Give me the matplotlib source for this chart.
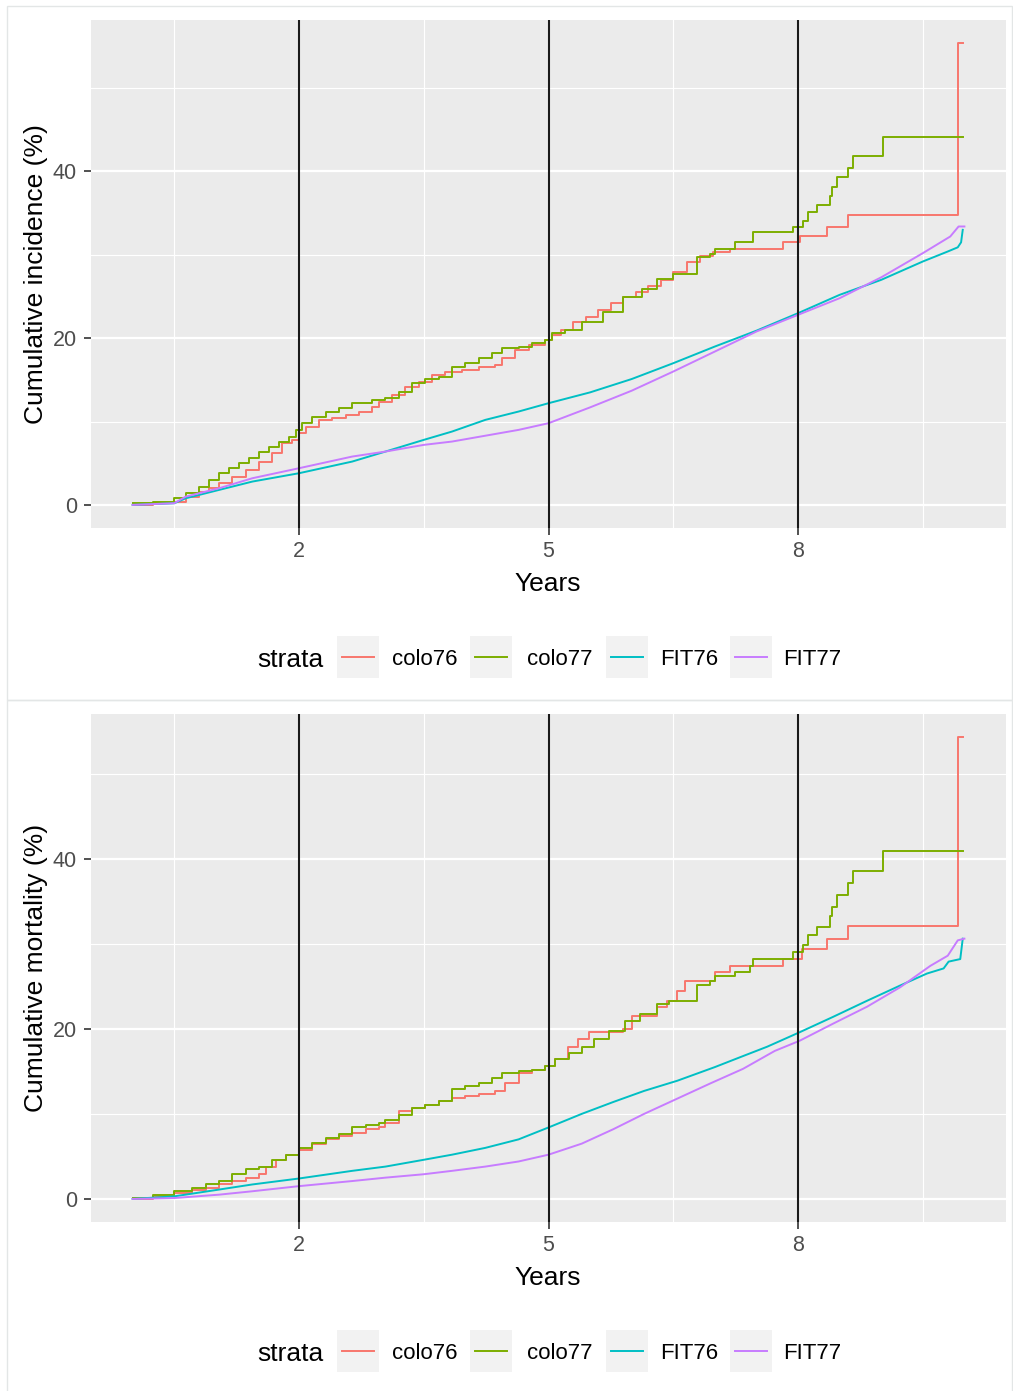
import numpy as np
import matplotlib
matplotlib.use("Agg")
import matplotlib.pyplot as plt
from matplotlib.patches import Rectangle
from matplotlib.lines import Line2D

plt.rcParams["font.family"] = ["Liberation Sans", "DejaVu Sans"]

# ---- cumulative incidence (%) by strata ----
inc_colo76_t = [0.0, 0.24, 0.5, 0.64, 0.8, 0.92, 1.04, 1.2, 1.36, 1.52, 1.68, 1.8, 1.92, 2.0, 2.08, 2.24,
                2.4, 2.56, 2.72, 2.88, 2.96, 3.12, 3.28, 3.44, 3.6, 3.76, 3.96, 4.16, 4.36, 4.44,
                4.6, 4.76, 4.96, 5.04, 5.15, 5.3, 5.45, 5.6, 5.75, 5.9, 6.05, 6.2, 6.35, 6.5,
                6.66, 6.82, 6.98, 7.18, 7.82, 8.02, 8.35, 8.6, 9.92, 9.98]
inc_colo76_y = [0.0, 0.2, 0.4, 1.0, 1.6, 2.0, 2.6, 3.4, 4.2, 5.2, 6.2, 7.4, 7.8, 8.6, 9.4, 10.2,
                10.4, 10.8, 11.2, 11.8, 12.4, 13.2, 14.2, 14.8, 15.6, 16.0, 16.2, 16.6, 16.8, 17.6,
                18.6, 19.2, 19.8, 20.4, 21.0, 22.0, 22.6, 23.4, 24.2, 25.0, 25.6, 26.3, 27.0, 27.9,
                29.1, 29.8, 30.3, 30.7, 31.5, 32.2, 33.3, 34.8, 55.4, 55.4]

inc_colo77_t = [0.0, 0.24, 0.5, 0.64, 0.8, 0.92, 1.04, 1.16, 1.28, 1.4, 1.52, 1.64, 1.76, 1.88, 1.96, 2.04,
                2.16, 2.32, 2.48, 2.64, 2.88, 3.04, 3.2, 3.36, 3.52, 3.68, 3.84, 4.0, 4.16, 4.32,
                4.44, 4.64, 4.8, 4.96, 5.04, 5.2, 5.4, 5.65, 5.9, 6.13, 6.3, 6.5, 6.78, 6.94,
                7.0, 7.24, 7.46, 7.94, 8.06, 8.12, 8.23, 8.39, 8.41, 8.47, 8.6, 8.66, 9.02, 9.98]
inc_colo77_y = [0.2, 0.4, 0.8, 1.4, 2.2, 3.0, 3.8, 4.4, 5.0, 5.6, 6.4, 7.0, 7.6, 8.2, 9.0, 9.8,
                10.6, 11.2, 11.6, 12.2, 12.6, 12.8, 13.6, 14.6, 15.1, 15.4, 16.6, 17.0, 17.6, 18.2,
                18.8, 19.0, 19.4, 19.8, 20.6, 21.0, 21.9, 23.2, 25.0, 25.9, 27.1, 27.7, 29.7, 30.1,
                30.7, 31.5, 32.7, 33.3, 34.0, 35.1, 36.0, 37.0, 38.1, 39.3, 40.4, 41.8, 44.1, 44.1]

inc_fit76_t = [0.0, 0.5, 0.64, 1.04, 1.44, 2.0, 2.64, 3.04, 3.5, 3.84, 4.24, 4.64, 5.0, 5.5, 6.0,
               6.5, 7.0, 7.5, 8.0, 8.5, 9.0, 9.5, 9.8, 9.92, 9.96, 9.98]
inc_fit76_y = [0.0, 0.2, 0.8, 1.8, 2.8, 3.8, 5.2, 6.4, 7.8, 8.8, 10.2, 11.2, 12.2, 13.5, 15.1,
               17.0, 19.0, 20.9, 23.0, 25.2, 27.0, 29.2, 30.4, 30.9, 31.5, 33.0]

inc_fit77_t = [0.0, 0.5, 0.64, 1.04, 1.44, 2.0, 2.64, 3.04, 3.5, 3.84, 4.24, 4.64, 5.0, 5.5, 6.0,
               6.5, 7.0, 7.5, 8.0, 8.5, 9.0, 9.5, 9.83, 9.93, 10.0]
inc_fit77_y = [0.0, 0.2, 1.0, 2.0, 3.2, 4.4, 5.8, 6.4, 7.2, 7.6, 8.3, 9.0, 9.8, 11.7, 13.7,
               16.0, 18.4, 20.8, 22.8, 24.8, 27.3, 30.2, 32.2, 33.4, 33.4]

# ---- cumulative mortality (%) by strata ----
mort_colo76_t = [0.0, 0.24, 0.5, 0.72, 0.88, 1.04, 1.2, 1.36, 1.52, 1.6, 1.72, 1.84, 2.0, 2.16, 2.32,
                 2.48, 2.64, 2.8, 2.96, 3.04, 3.2, 3.36, 3.52, 3.68, 3.84, 4.0, 4.16, 4.36, 4.48,
                 4.64, 4.8, 4.96, 5.08, 5.23, 5.35, 5.49, 5.9, 6.0, 6.3, 6.42, 6.54, 6.64, 7.0,
                 7.18, 7.82, 8.05, 8.35, 8.6, 9.92, 9.98]
mort_colo76_y = [0.0, 0.3, 0.7, 1.1, 1.3, 1.7, 2.1, 2.5, 2.9, 3.8, 4.6, 5.2, 5.8, 6.4, 7.0,
                 7.4, 7.8, 8.2, 8.5, 8.9, 10.3, 10.7, 11.1, 11.5, 11.9, 12.1, 12.3, 12.7, 13.6,
                 14.8, 15.2, 15.6, 16.4, 17.9, 18.8, 19.6, 20.0, 21.5, 22.6, 23.3, 24.4, 25.6, 26.7,
                 27.4, 28.2, 29.4, 30.6, 32.1, 54.3, 54.3]

mort_colo77_t = [0.0, 0.24, 0.5, 0.72, 0.88, 1.04, 1.2, 1.36, 1.52, 1.68, 1.84, 2.0, 2.16, 2.32, 2.48,
                 2.64, 2.8, 2.96, 3.04, 3.2, 3.36, 3.52, 3.68, 3.84, 4.0, 4.16, 4.32, 4.44, 4.64,
                 4.8, 4.96, 5.08, 5.25, 5.4, 5.55, 5.73, 5.92, 6.1, 6.3, 6.45, 6.78, 6.94, 7.0,
                 7.24, 7.42, 7.46, 7.94, 8.06, 8.12, 8.23, 8.39, 8.41, 8.47, 8.6, 8.66, 9.02, 9.98]
mort_colo77_y = [0.1, 0.5, 0.9, 1.3, 1.7, 2.1, 2.9, 3.5, 3.8, 4.6, 5.2, 6.0, 6.6, 7.2, 7.6,
                 8.4, 8.7, 8.9, 9.3, 9.9, 10.7, 11.1, 11.5, 12.9, 13.3, 13.6, 14.2, 14.8, 15.0,
                 15.2, 15.6, 16.4, 17.2, 17.9, 18.8, 19.8, 20.9, 21.8, 22.9, 23.3, 25.1, 25.6, 26.2,
                 26.7, 27.4, 28.2, 29.0, 29.8, 31.0, 32.0, 33.3, 34.3, 35.7, 37.1, 38.6, 40.9, 40.9]

mort_fit76_t = [0.0, 0.5, 1.04, 1.44, 2.0, 2.64, 3.04, 3.5, 3.84, 4.24, 4.64, 5.0, 5.4, 5.78, 6.15,
                6.55, 7.0, 7.34, 7.63, 8.02, 8.42, 8.83, 9.23, 9.55, 9.75, 9.81, 9.95, 9.98]
mort_fit76_y = [0.0, 0.3, 1.1, 1.7, 2.4, 3.3, 3.8, 4.6, 5.2, 6.0, 7.0, 8.4, 10.0, 11.4, 12.7,
                13.9, 15.5, 16.8, 17.9, 19.6, 21.4, 23.3, 25.1, 26.5, 27.1, 27.9, 28.2, 30.6]

mort_fit77_t = [0.0, 0.5, 1.04, 1.44, 2.0, 2.64, 3.04, 3.5, 3.84, 4.24, 4.64, 5.0, 5.4, 5.78, 6.15,
                6.55, 6.95, 7.34, 7.72, 8.02, 8.42, 8.83, 9.23, 9.59, 9.8, 9.92, 10.0]
mort_fit77_y = [0.0, 0.1, 0.5, 0.9, 1.5, 2.1, 2.5, 2.9, 3.3, 3.8, 4.4, 5.2, 6.5, 8.2, 10.0,
                11.8, 13.6, 15.3, 17.4, 18.6, 20.6, 22.6, 24.9, 27.4, 28.6, 30.4, 30.6]

strata = ["colo76", "colo77", "FIT76", "FIT77"]
colors = ["#F8766D", "#7CAE00", "#00BFC4", "#C77CFF"]
cutpoints = [2, 5, 8]

W, H = 1013, 1391
fig = plt.figure(figsize=(W / 100, H / 100), dpi=100)

# full-figure overlay in pixel units for frames, titles and legends
bg = fig.add_axes([0, 0, 1, 1])
bg.set_xlim(0, W)
bg.set_ylim(H, 0)
bg.axis("off")


def fx(x):
    return x / W


def fy(y):
    return 1 - y / H


def draw_panel(top, ylabel, series):
    ax = fig.add_axes([fx(91), fy(top + 508), fx(1006) - fx(91), fy(top) - fy(top + 508)])
    ax.set_facecolor("#EBEBEB")
    for (t, y), name, c in zip(series, strata, colors):
        if name.startswith("colo"):
            ax.step(t, y, where="post", color=c, lw=1.4)
        else:
            ax.plot(t, y, color=c, lw=1.4)
    for v in cutpoints:
        ax.axvline(v, color="#1a1a1a", lw=1.5, zorder=5)
    ax.margins(x=0.05, y=0.05)
    ax.set_xticks([2, 5, 8])
    ax.set_xticks([0.5, 3.5, 6.5, 9.5], minor=True)
    ax.set_yticks([0, 20, 40])
    ax.set_yticks([10, 30, 50], minor=True)
    ax.grid(which="major", color="white", lw=1.6)
    ax.grid(which="minor", color="white", lw=0.8)
    ax.set_axisbelow(True)
    for s in ax.spines.values():
        s.set_visible(False)
    ax.tick_params(which="major", length=5, width=1.2, color="#333333",
                   labelsize=15.5, labelcolor="#4D4D4D")
    ax.tick_params(axis="x", pad=4.5)
    ax.tick_params(axis="y", pad=5)
    ax.tick_params(which="minor", length=0)

    # outer frame around each plot
    bg.add_patch(Rectangle((7, top - 14), 1005, 694, fill=False, ec="#E3E6E6", lw=1))

    bg.text(36, top + 254, ylabel, rotation=90, ha="center", va="center", fontsize=19)
    bg.text(548, top + 571, "Years", ha="center", va="baseline", fontsize=19)

    # legend row
    ly = top + 637
    bg.text(290, top + 647, "strata", ha="center", va="baseline", fontsize=19)
    box_x = [337, 470, 606, 730]
    text_x = [392, 527, 660, 783]
    for bx, tx, name, c in zip(box_x, text_x, strata, colors):
        bg.add_patch(Rectangle((bx, ly - 21), 42, 42, fc="#F2F2F2", ec="none"))
        bg.add_line(Line2D([bx + 5, bx + 37], [ly, ly], color=c, lw=1.4))
        bg.text(tx, top + 645, name, ha="left", va="baseline", fontsize=16)
    return ax


draw_panel(20, "Cumulative incidence (%)",
           [(inc_colo76_t, inc_colo76_y), (inc_colo77_t, inc_colo77_y),
            (inc_fit76_t, inc_fit76_y), (inc_fit77_t, inc_fit77_y)])
draw_panel(714, "Cumulative mortality (%)",
           [(mort_colo76_t, mort_colo76_y), (mort_colo77_t, mort_colo77_y),
            (mort_fit76_t, mort_fit76_y), (mort_fit77_t, mort_fit77_y)])

fig.savefig("out.png", dpi=100)
